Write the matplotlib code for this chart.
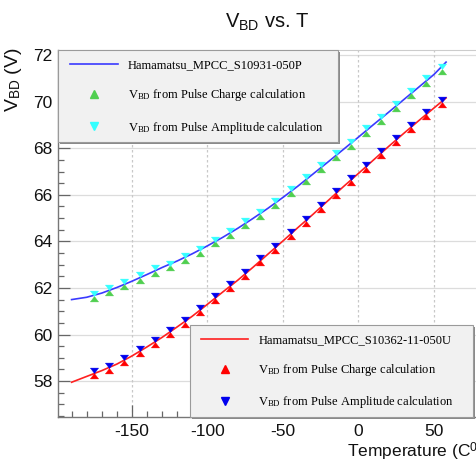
import matplotlib
matplotlib.use('Agg')
import matplotlib.pyplot as plt
from matplotlib import font_manager as fm
from matplotlib.patches import Rectangle
from matplotlib.lines import Line2D
from matplotlib.ticker import MultipleLocator
from matplotlib.transforms import offset_copy

# --- data ---
temps = [-175, -165, -155, -145, -135, -125, -115, -105, -95, -85, -75, -65,
         -55, -45, -35, -25, -15, -5, 5, 15, 25, 35, 45, 55]

# Hamamatsu MPCC S10931-050P
p050_charge = [61.66, 61.90, 62.15, 62.43, 62.74, 62.97, 63.28, 63.60, 64.00, 64.35, 64.78, 65.18,
               65.65, 66.16, 66.69, 67.19, 67.69, 68.20, 68.76, 69.27, 69.80, 70.36, 70.91, 71.42]
p050_ampl = [61.66, 61.91, 62.16, 62.45, 62.76, 62.96, 63.27, 63.59, 63.99, 64.34, 64.77, 65.17,
             65.65, 66.17, 66.70, 67.20, 67.70, 68.20, 68.77, 69.27, 69.80, 70.37, 70.92, 71.42]
fit_t = [-190, -180, -170, -160, -150, -140, -130, -120, -110, -100, -90, -80, -70,
         -60, -50, -40, -30, -20, -10, 0, 10, 20, 30, 40, 50, 58]
p050_fit = [61.50, 61.60, 61.78, 62.02, 62.29, 62.58, 62.88, 63.16, 63.47, 63.81, 64.17, 64.56, 64.98,
            65.42, 65.89, 66.38, 66.90, 67.42, 67.95, 68.48, 69.02, 69.55, 70.09, 70.63, 71.17, 71.70]

# Hamamatsu MPCC S10362-11-050U
u050_charge = [58.33, 58.57, 58.90, 59.30, 59.66, 60.12, 60.55, 61.05, 61.58, 62.08, 62.59, 63.19,
               63.72, 64.31, 64.88, 65.46, 66.06, 66.63, 67.20, 67.80, 68.37, 68.91, 69.46, 69.99]
u050_ampl = [58.33, 58.57, 58.90, 59.30, 59.66, 60.12, 60.55, 61.05, 61.58, 62.08, 62.59, 63.19,
             63.72, 64.31, 64.88, 65.46, 66.06, 66.63, 67.20, 67.80, 68.37, 68.91, 69.46, 69.99]
u050_fit = [57.95, 58.20, 58.45, 58.73, 59.08, 59.47, 59.88, 60.33, 60.79, 61.30, 61.82, 62.33, 62.88,
            63.45, 64.02, 64.60, 65.17, 65.76, 66.35, 66.92, 67.50, 68.08, 68.64, 69.19, 69.73, 70.16]

x_ticks = [-150, -100, -50, 0, 50]
y_ticks = [58, 60, 62, 64, 66, 68, 70, 72]

# --- fonts ---
names = {f.name for f in fm.fontManager.ttflist}
narrow = 'Liberation Sans Narrow' in names
sans = 'Liberation Sans Narrow' if narrow else 'Liberation Sans'
serif = 'Liberation Serif'
plt.rcParams['font.family'] = [sans, 'DejaVu Sans']
plt.rcParams['axes.unicode_minus'] = False
plt.rcParams['mathtext.fontset'] = 'custom'
plt.rcParams['mathtext.rm'] = serif
plt.rcParams['mathtext.sf'] = sans
plt.rcParams['mathtext.it'] = serif + ':italic'
fs_tick = 14 if narrow else 12.5
fs_lab = 15 if narrow else 12.5

W, H = 476, 462
fig = plt.figure(figsize=(W / 100, H / 100), dpi=100)

# axes run past the right edge, as in the cropped original
xlo, xhi = -198.8, 85
ax_l, ax_t, ax_b = 58.3, 50, 416.7
px_per_unit = 1.51
ax_r = ax_l + (xhi - xlo) * px_per_unit
ax = fig.add_axes([ax_l / W, (H - ax_b) / H, (ax_r - ax_l) / W, (ax_b - ax_t) / H])
ax.set_xlim(xlo, xhi)
ax.set_ylim(56.47, 72.22)

# grid
for v in y_ticks:
    ax.axhline(v, color='#dcdcdc', lw=0.9, zorder=0)
for v in x_ticks:
    ax.axvline(v, color='#c8c8c8', lw=0.9, ls=(0, (2, 2)), zorder=0)

# markers: triangles meeting at the point (hourglass look)
tri_up = [(-0.75, -1), (0.75, -1), (0, 0), (-0.75, -1)]
tri_dn = [(-0.75, 1), (0.75, 1), (0, 0), (-0.75, 1)]

green = '#4fcf4f'
cyan = '#33ffff'
ms = 7.8
ax.plot(fit_t, p050_fit, color='#3a3aff', lw=1.2, zorder=2)
ax.plot(temps, p050_charge, ls='none', marker=tri_up, ms=ms, mfc=green, mec=green, mew=0.3, zorder=3)
ax.plot(temps, p050_ampl, ls='none', marker=tri_dn, ms=ms, mfc=cyan, mec=cyan, mew=0.3, zorder=3)

ax.plot(fit_t, u050_fit, color='#ff2020', lw=1.2, zorder=2)
ax.plot(temps, u050_charge, ls='none', marker=tri_up, ms=ms, mfc='red', mec='red', mew=0.3, zorder=3)
ax.plot(temps, u050_ampl, ls='none', marker=tri_dn, ms=ms, mfc='#0000ee', mec='#0000ee', mew=0.3, zorder=3)

# ticks
ax.set_xticks(x_ticks)
ax.set_yticks(y_ticks)
ax.xaxis.set_minor_locator(MultipleLocator(10))
ax.yaxis.set_minor_locator(MultipleLocator(0.5))
ax.tick_params(which='both', direction='in', top=False, right=False, color='#666666', width=0.9)
ax.tick_params(which='major', length=8.5, labelsize=fs_tick, labelcolor='#111111')
ax.tick_params(which='minor', length=4)
ax.tick_params(axis='y', which='major', pad=4)
ax.tick_params(axis='x', which='major', pad=5)
for s in ['left', 'bottom']:
    ax.spines[s].set_color('#777777')
    ax.spines[s].set_linewidth(1.0)
ax.spines['top'].set_color('#cccccc')
ax.spines['right'].set_visible(False)


def legend_box(x0, y0, x1, y1):
    # light grey box with a small dark shadow, in axes coords
    tr = offset_copy(ax.transAxes, fig=fig, x=2, y=-2, units='dots')
    ax.add_patch(Rectangle((x0, y0), x1 - x0, y1 - y0, transform=tr,
                           fc='#8a8a8a', ec='none', zorder=5, clip_on=False))
    ax.add_patch(Rectangle((x0, y0), x1 - x0, y1 - y0, transform=ax.transAxes,
                           fc='#f1f1f1', ec='#9a9a9a', lw=0.8, zorder=6, clip_on=False))


aw, ah = ax_r - ax_l, ax_b - ax_t
legend_box(0, (ax_b - 142) / ah, (338 - ax_l) / aw, 1.0)
legend_box((190 - ax_l) / aw, 0, (473 - ax_l) / aw, (ax_b - 325) / ah)

h1 = [Line2D([], [], color='#3a3aff', lw=1.2),
      Line2D([], [], ls='none', marker='^', ms=5.5, color=green),
      Line2D([], [], ls='none', marker='v', ms=5.5, color=cyan)]
h2 = [Line2D([], [], color='#ff2020', lw=1.2),
      Line2D([], [], ls='none', marker='^', ms=5.5, color='red'),
      Line2D([], [], ls='none', marker='v', ms=5.5, color='#0000ee')]
lab_a = 'Hamamatsu_MPCC_S10931-050P'
lab_b = 'Hamamatsu_MPCC_S10362-11-050U'
lab_q = r'V$_{\mathrm{BD}}$ from Pulse Charge calculation'
lab_v = r'V$_{\mathrm{BD}}$ from Pulse Amplitude calculation'

leg_kw = dict(loc='upper left', frameon=False, borderpad=0, borderaxespad=0,
              handlelength=3.8, handletextpad=0.8, labelspacing=1.3,
              prop={'family': serif, 'size': 9})
leg1 = ax.legend(h1, [lab_a, lab_q, lab_v],
                 bbox_to_anchor=((70 - ax_l) / aw, (ax_b - 59) / ah), **leg_kw)
leg1.set_zorder(7)
ax.add_artist(leg1)
leg2 = ax.legend(h2, [lab_b, lab_q, lab_v],
                 bbox_to_anchor=((201 - ax_l) / aw, (ax_b - 334) / ah), **leg_kw)
leg2.set_zorder(7)

# titles
fig.text(267 / W, 1 - 27 / H, r'V$_{\mathsf{BD}}$ vs. T', ha='center', va='baseline',
         fontsize=14.5, color='#111111')
fig.text(14 / W, 1 - 47 / H, r'V$_{\mathsf{BD}}$ (V)', rotation=90, ha='center', va='top',
         fontsize=14 if not narrow else 15, color='#111111')
fig.text(347 / W, 1 - 457 / H, r'Temperature (C$^{\mathsf{0}}$)', ha='left', va='baseline',
         fontsize=fs_lab, color='#111111')

fig.savefig('out.png', dpi=100)
